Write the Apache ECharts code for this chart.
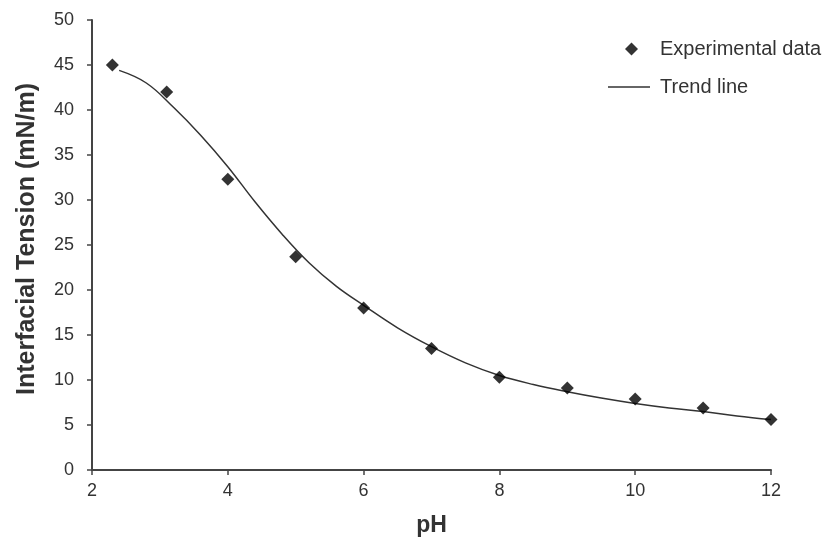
<!DOCTYPE html>
<html>
<head>
<meta charset="utf-8">
<style>
  html, body { margin: 0; padding: 0; background: #fff; }
  #chart { width: 829px; height: 543px; }
</style>
<script src="https://cdn.jsdelivr.net/npm/echarts@6/dist/echarts.min.js"></script>
</head>
<body>
<div id="chart"></div>
<script>
// measured points
const phValues = [2.3, 3.1, 4, 5, 6, 7, 8, 9, 10, 11, 12]
const tensionValues = [45, 42, 32.3, 23.7, 18, 13.5, 10.3, 9.1, 7.9, 6.9, 5.6]

// trend line
const trendPh = [2.4, 2.8, 3.2, 3.6, 4.0, 4.4, 4.8, 5.2, 5.6, 6.0, 6.5, 7.0, 7.5, 8.0, 8.5, 9.0, 9.5, 10, 10.5, 11, 11.5, 12]
const trendTension = [44.4, 43.0, 40.3, 37.2, 33.7, 29.8, 26.2, 23.0, 20.4, 18.3, 15.8, 13.7, 11.9, 10.5, 9.5, 8.7, 8.0, 7.4, 6.9, 6.5, 6.0, 5.6]

const FONT = 'Liberation Sans, Arial, sans-serif'
const axisColor = '#444'
const textColor = '#333'

const chart = echarts.init(document.getElementById('chart'))

chart.setOption({
    backgroundColor: '#fff',
    animation: false,
    textStyle: { fontFamily: FONT },
    grid: { left: 92, right: 58, top: 20, bottom: 73 },
    legend: [
        {
            data: ['Experimental data'],
            left: 620, top: 34,
            itemWidth: 13, itemHeight: 13,
            textStyle: { fontSize: 20, color: textColor, fontFamily: FONT, padding: [0, 0, 0, 17] }
        },
        {
            data: [{ name: 'Trend line', icon: 'path://M0,0 L42,0 L42,1.5 L0,1.5 Z' }],
            left: 603, top: 72,
            itemWidth: 42, itemHeight: 2,
            textStyle: { fontSize: 20, color: textColor, fontFamily: FONT, padding: [0, 0, 0, 5] }
        }
    ],
    xAxis: {
        type: 'value',
        min: 2, max: 12, interval: 2,
        name: 'pH',
        nameLocation: 'middle',
        nameGap: 44,
        nameTextStyle: { fontSize: 23, fontWeight: 'bold', color: textColor, fontFamily: FONT },
        axisLine: { show: true, lineStyle: { color: axisColor, width: 2 } },
        axisTick: { show: true, length: 5, lineStyle: { color: axisColor, width: 1.5 } },
        axisLabel: { fontSize: 18, color: textColor, margin: 12 },
        splitLine: { show: false }
    },
    yAxis: {
        type: 'value',
        min: 0, max: 50, interval: 5,
        name: 'Interfacial Tension (mN/m)',
        nameLocation: 'middle',
        nameGap: 52,
        nameTextStyle: { fontSize: 25, fontWeight: 'bold', color: textColor, fontFamily: FONT, padding: [0, 0, 0, 12] },
        axisLine: { show: true, lineStyle: { color: axisColor, width: 2 } },
        axisTick: { show: true, length: 5, lineStyle: { color: axisColor, width: 1.5 } },
        axisLabel: { fontSize: 18, color: textColor, margin: 18 },
        splitLine: { show: false }
    },
    series: [
        {
            name: 'Trend line',
            type: 'line',
            data: trendPh.map((x, i) => [x, trendTension[i]]),
            smooth: 0.4,
            showSymbol: false,
            lineStyle: { color: '#333', width: 1.5 },
            itemStyle: { color: '#333' },
            z: 2
        },
        {
            name: 'Experimental data',
            type: 'scatter',
            data: phValues.map((x, i) => [x, tensionValues[i]]),
            symbol: 'diamond',
            symbolSize: 13,
            itemStyle: { color: '#000' },
            z: 3
        }
    ]
})
</script>
</body>
</html>
